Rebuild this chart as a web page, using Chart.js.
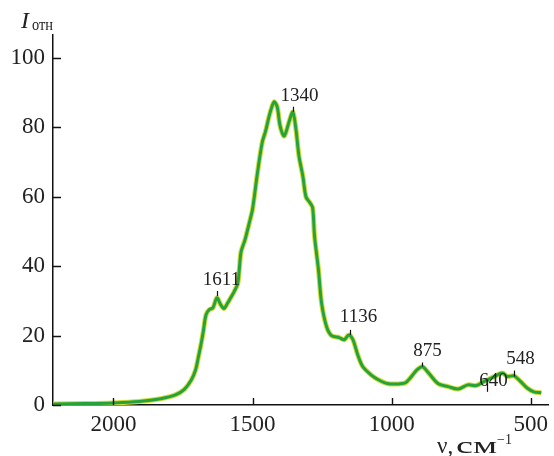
<!DOCTYPE html>
<html>
<head>
<meta charset="utf-8">
<script src="https://cdn.jsdelivr.net/npm/chart.js@4"></script>
<style>
  html, body { margin: 0; padding: 0; background: #fff; }
  canvas { display: block; }
</style>
</head>
<body>
<canvas id="spectrum" width="554" height="456"></canvas>
<script>
// Spectrum data (wavenumber, cm-1 -> relative intensity)
const wavenumbers = [2217, 2100, 2000, 1908, 1830, 1777, 1745, 1720, 1705, 1695, 1685, 1677, 1667, 1655, 1642, 1628, 1615, 1603, 1590, 1577, 1565, 1553, 1547, 1541, 1527, 1509, 1500, 1482, 1465, 1454, 1440, 1430, 1422, 1411, 1401, 1387, 1378, 1369, 1355, 1344, 1333, 1319, 1308, 1294, 1284, 1277, 1263, 1252, 1234, 1216, 1188, 1170, 1154, 1139, 1122, 1104, 1074, 1046, 1011, 970, 950, 933, 909, 889, 868, 832, 797, 761, 726, 696, 667, 631, 602, 584, 560, 537, 513, 489, 462];
const intensity = [0.3, 0.4, 0.6, 1.0, 1.8, 2.9, 4.5, 7.2, 10, 13.6, 17.5, 21.1, 26, 27.5, 28, 30.9, 29, 27.8, 29.3, 31.1, 32.8, 35, 39.5, 44.2, 47.6, 53.3, 56.3, 67, 75.7, 78.6, 83.3, 86, 87.4, 85.8, 80.5, 77.5, 79, 81.5, 84.4, 79.5, 71.7, 65.9, 60, 58.3, 56.9, 48.6, 39, 29.5, 22.6, 20, 19.4, 18.8, 20.2, 18.8, 14.5, 11.1, 8.7, 7.2, 6.1, 6.1, 6.4, 7.8, 10.1, 11, 9.3, 6.1, 5.3, 4.6, 5.8, 5.6, 6.8, 8.2, 9.2, 8.2, 8.4, 6.8, 4.9, 3.8, 3.5];

const xTicks = [2000, 1500, 1000, 500];
const yTicks = [0, 20, 40, 60, 80, 100];

// Peak annotations
const peakNames = ['1611', '1340', '1136', '875', '640', '548'];
const peakPos = [1628, 1355, 1151, 890, 658, 560];
const peakBase = [31.4, 84.5, 20.2, 11.1, 3.8, 8.2];

// marker length and text lift (px) for each annotation
const markLen = [5, 5, 5, 4, 12, 6];
const textLift = [6, 6, 8, 6, -6, 7];
const textShift = [4, 6, 8, 5, 6, 6];

const serif = "'Liberation Serif', 'Times New Roman', serif";
const pts = wavenumbers.map((w, i) => ({ x: w, y: intensity[i] }));

// draws text stretched to a given width
function fitText(ctx, text, x, y, width) {
  const w = ctx.measureText(text).width;
  ctx.save();
  ctx.translate(x, y);
  ctx.scale(width / w, 1);
  ctx.fillText(text, 0, 0);
  ctx.restore();
}

const inwardTicks = {
  id: 'inwardTicks',
  afterDraw(chart) {
    const ctx = chart.ctx;
    const xs = chart.scales.x, ys = chart.scales.y;
    const area = chart.chartArea;
    ctx.save();
    ctx.strokeStyle = '#111';
    ctx.lineWidth = 1.4;
    ctx.beginPath();
    yTicks.forEach(v => {
      const py = Math.round(ys.getPixelForValue(v)) + 0.5;
      ctx.moveTo(area.left, py);
      ctx.lineTo(area.left + 8, py);
    });
    xTicks.forEach(v => {
      const px = Math.round(xs.getPixelForValue(v)) + 0.5;
      ctx.moveTo(px, area.bottom);
      ctx.lineTo(px, area.bottom - 7);
    });
    ctx.stroke();

    // peak labels
    ctx.lineWidth = 1.2;
    ctx.fillStyle = '#222';
    ctx.font = '19px ' + serif;
    ctx.textAlign = 'center';
    ctx.textBaseline = 'alphabetic';
    peakNames.forEach((name, i) => {
      const px = Math.round(xs.getPixelForValue(peakPos[i])) + 0.5;
      const pb = ys.getPixelForValue(peakBase[i]);
      ctx.beginPath();
      ctx.moveTo(px, pb);
      ctx.lineTo(px, pb - markLen[i]);
      ctx.stroke();
      ctx.fillText(name, px + textShift[i], pb - markLen[i] - textLift[i]);
    });

    // axis titles
    ctx.textAlign = 'left';
    ctx.font = 'italic 24px ' + serif;
    ctx.fillText('I', 21, 28);
    ctx.font = '16px ' + serif;
    fitText(ctx, 'отн', 32, 30, 21);

    ctx.font = '23px ' + serif;
    ctx.fillText('ν,', 437, 453);
    ctx.font = '24px ' + serif;
    fitText(ctx, 'см', 456, 453, 41);
    ctx.font = '14px ' + serif;
    ctx.fillText('−1', 497, 444);
    ctx.restore();
  }
};

new Chart(document.getElementById('spectrum'), {
  type: 'line',
  data: {
    datasets: [
      {
        data: pts,
        borderColor: '#25a23c',
        borderWidth: 3,
        pointRadius: 0,
        tension: 0.3,
        fill: false,
        order: 1
      },
      {
        data: pts,
        borderColor: '#cfdc3c',
        borderWidth: 5,
        pointRadius: 0,
        tension: 0.3,
        fill: false,
        order: 2
      }
    ]
  },
  options: {
    responsive: false,
    animation: false,
    layout: { padding: { top: 35, right: 0, left: 0, bottom: 0 } },
    plugins: {
      legend: { display: false },
      tooltip: { enabled: false }
    },
    scales: {
      x: {
        type: 'linear',
        reverse: true,
        min: 436,
        max: 2217,
        afterBuildTicks: scale => { scale.ticks = xTicks.map(v => ({ value: v })); },
        afterFit: scale => { scale.height = 51; },
        grid: { display: false, drawTicks: false },
        border: { display: true, color: '#111', width: 1.5 },
        ticks: {
          color: '#222',
          padding: 6,
          maxRotation: 0,
          font: { family: serif, size: 23 },
          callback: v => String(v)
        }
      },
      y: {
        min: 0,
        max: 106.6,
        afterBuildTicks: scale => { scale.ticks = yTicks.map(v => ({ value: v })); },
        afterFit: scale => { scale.width = 53; },
        grid: { display: false, drawTicks: false },
        border: { display: true, color: '#111', width: 1.5 },
        ticks: {
          color: '#222',
          padding: 8,
          font: { family: serif, size: 23 },
          callback: v => String(v)
        }
      }
    }
  },
  plugins: [inwardTicks]
});
</script>
</body>
</html>
